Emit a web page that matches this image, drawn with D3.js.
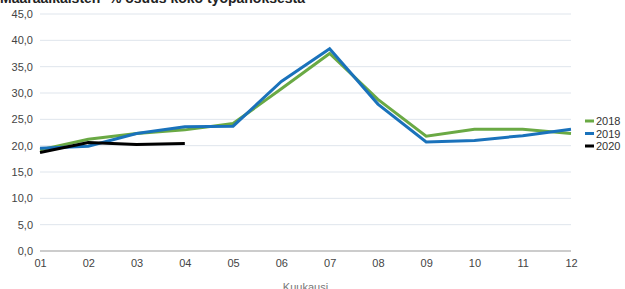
<!DOCTYPE html>
<html>
<head>
<meta charset="utf-8">
<style>
body { margin: 0; background: #fff; }
svg { display: block; font-family: "Liberation Sans", Arial, sans-serif; }
.grid line { stroke: #dfe5ec; stroke-width: 1; }
.axis text { fill: #444; font-size: 11px; }
.axis path, .axis line { display: none; }
.series { fill: none; stroke-width: 3; stroke-linejoin: miter; }
</style>
</head>
<body>
<svg width="625" height="289"></svg>
<script src="https://d3js.org/d3.v7.min.js"></script>
<script>

var months = ["01","02","03","04","05","06","07","08","09","10","11","12"];
var years = ["2018","2019","2020"];
var colors = ["#6aa944","#1a72bb","#000000"];
var values2018 = [19.2, 21.2, 22.3, 23.0, 24.2, 30.8, 37.5, 28.8, 21.8, 23.1, 23.1, 22.3];
var values2019 = [19.5, 19.9, 22.3, 23.6, 23.7, 32.2, 38.4, 27.9, 20.7, 21.0, 21.9, 23.1];
var values2020 = [18.7, 20.6, 20.2, 20.4];
var yTicks = [0, 5, 10, 15, 20, 25, 30, 35, 40, 45];

var svg = d3.select("svg");
// plot area edges (note: "top" is reserved on window, so use other names)
var plotLeft = 40, plotRight = 571, plotTop = 14, plotBottom = 251;

var x = d3.scalePoint().domain(months).range([plotLeft, plotRight]);
var y = d3.scaleLinear().domain([0, 45]).range([plotBottom, plotTop]);

// title, partly cut off at the top like the original
svg.append("text")
  .attr("x", 0).attr("y", 3)
  .attr("font-size", 14).attr("font-weight", "bold").attr("fill", "#222")
  .text("Määräaikaisten -% osuus koko työpanoksesta");

svg.append("g").attr("class", "grid")
  .selectAll("line").data(yTicks).enter().append("line")
    .attr("x1", plotLeft).attr("x2", plotRight)
    .attr("y1", d => y(d)).attr("y2", d => y(d))
    .style("stroke", d => d === 0 ? "#999" : null);

svg.append("g").attr("class", "axis")
  .attr("transform", "translate(" + (plotLeft - 7) + ",0)")
  .call(d3.axisLeft(y).tickValues(yTicks).tickSize(0).tickPadding(0)
    .tickFormat(d => d3.format(".1f")(d).replace(".", ",")));

svg.append("g").attr("class", "axis")
  .attr("transform", "translate(0," + (plotBottom + 6) + ")")
  .call(d3.axisBottom(x).tickSize(0).tickPadding(2));

svg.append("text")
  .attr("x", (plotLeft + plotRight) / 2).attr("y", 291)
  .attr("text-anchor", "middle").attr("font-size", 11).attr("fill", "#777")
  .text("Kuukausi");

var line = d3.line().x((d, i) => x(months[i])).y(d => y(d));
var all = [values2018, values2019, values2020];

svg.selectAll(".series").data(all).enter().append("path")
  .attr("class", "series")
  .attr("stroke", (d, i) => colors[i])
  .attr("d", line);

var legend = svg.append("g").selectAll("g").data(years).enter().append("g")
  .attr("transform", (d, i) => "translate(585," + (121 + i * 12.5) + ")");
legend.append("line")
  .attr("x1", 0).attr("x2", 9).attr("y1", 0).attr("y2", 0)
  .attr("stroke-width", 3).attr("stroke", (d, i) => colors[i]);
legend.append("text")
  .attr("x", 11).attr("y", 4)
  .attr("font-size", 11).attr("fill", "#333")
  .text(d => d);

</script>
</body>
</html>
